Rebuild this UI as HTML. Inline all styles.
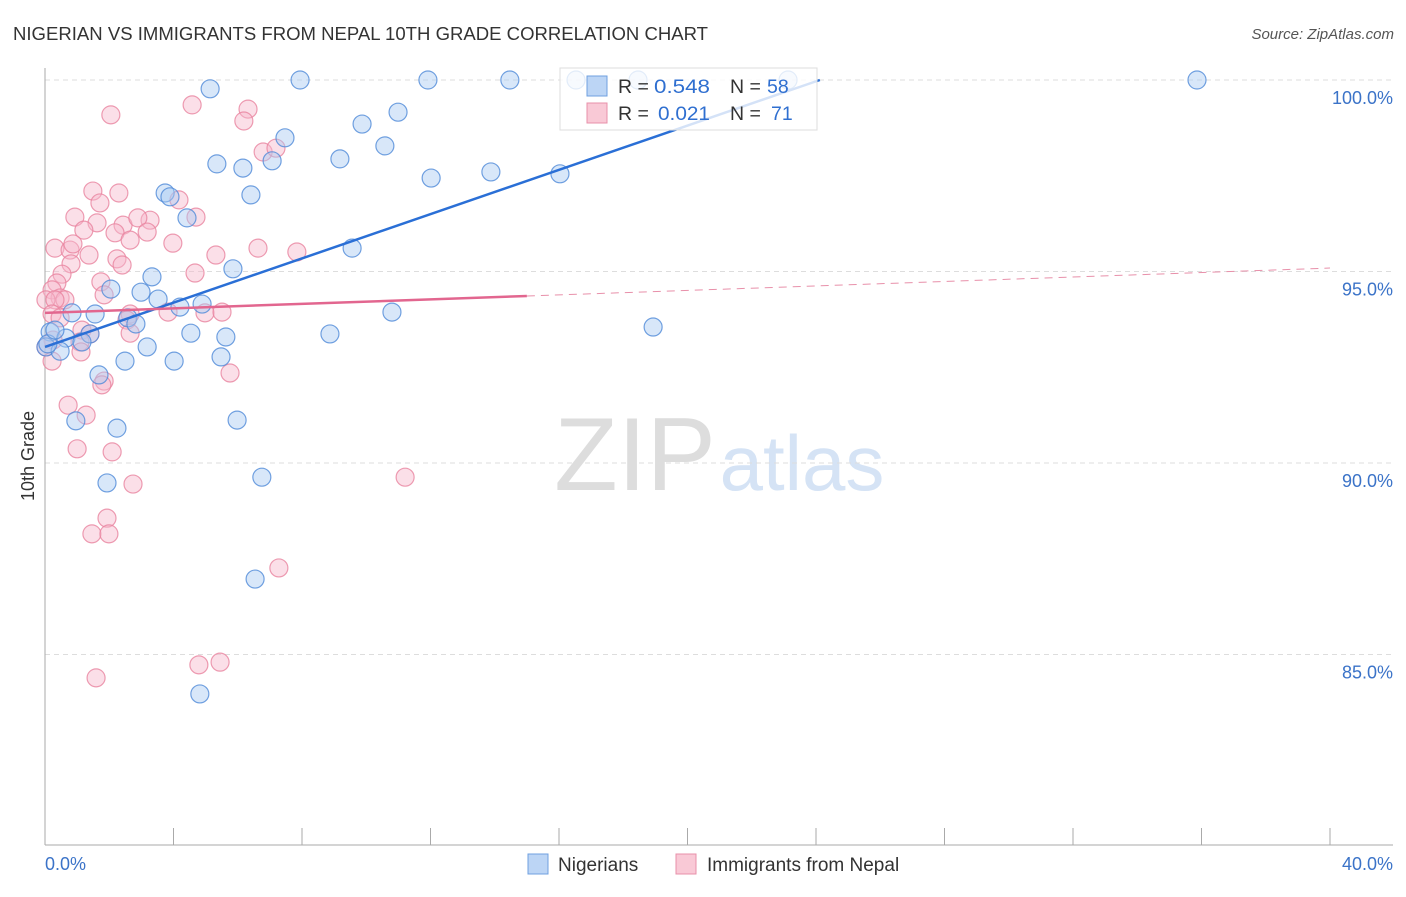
<!DOCTYPE html>
<html><head><meta charset="utf-8">
<style>
body{margin:0;background:#fff;font-family:"Liberation Sans",sans-serif;}
svg text{font-family:"Liberation Sans",sans-serif;}
</style></head>
<body>
<svg id="chart" width="1406" height="892" viewBox="0 0 1406 892" xmlns="http://www.w3.org/2000/svg">
<text x="13" y="40" font-size="18" fill="#333" textLength="695" lengthAdjust="spacingAndGlyphs">NIGERIAN VS IMMIGRANTS FROM NEPAL 10TH GRADE CORRELATION CHART</text>
<text x="1394" y="39" font-size="15" fill="#555" text-anchor="end" font-style="italic">Source: ZipAtlas.com</text>
<g>
<text x="635" y="490" font-size="104" fill="#ddd" text-anchor="middle" font-family="Liberation Serif">ZIP</text>
<text x="802" y="490" font-size="78" fill="#d5e3f5" text-anchor="middle">atlas</text>
</g>
<g id="grid"></g>
<g id="axes"></g>
<g id="marks"></g>
<g id="lines"></g>
<g>
<rect x="560" y="68" width="257" height="62" fill="#fff" fill-opacity="0.8" stroke="#ddd"/>
<rect x="587" y="76" width="20" height="20" fill="#bcd5f5" stroke="#6fa0e0"/>
<text x="618" y="93" font-size="19.5" fill="#333">R =</text>
<text x="654" y="93" font-size="19.5" fill="#2f6fd0" textLength="56" lengthAdjust="spacingAndGlyphs">0.548</text>
<text x="730" y="93" font-size="19.5" fill="#333">N =</text>
<text x="767" y="93" font-size="19.5" fill="#2f6fd0">58</text>
<rect x="587" y="103" width="20" height="20" fill="#f9c9d6" stroke="#e890aa"/>
<text x="618" y="120" font-size="19.5" fill="#333">R =</text>
<text x="658" y="120" font-size="19.5" fill="#2f6fd0" textLength="52" lengthAdjust="spacingAndGlyphs">0.021</text>
<text x="730" y="120" font-size="19.5" fill="#333">N =</text>
<text x="771" y="120" font-size="19.5" fill="#2f6fd0">71</text>
</g>
<text transform="translate(34,456) rotate(-90)" font-size="18" fill="#333" text-anchor="middle">10th Grade</text>
<g>
<rect x="528" y="854" width="20" height="20" fill="#bcd5f5" stroke="#6fa0e0"/>
<text x="558" y="871" font-size="19" fill="#333">Nigerians</text>
<rect x="676" y="854" width="20" height="20" fill="#f9c9d6" stroke="#e890aa"/>
<text x="707" y="871" font-size="19" fill="#333">Immigrants from Nepal</text>
</g>
</svg>
<script>
const xTicks=[0,4,8,12,16,20,24,28,32,36,40];
const yTicks=[100,95,90,85];
const yTickLabels=["100.0%","95.0%","90.0%","85.0%"];
const xLabels=["0.0%","40.0%"];
const blueX=[5.14,7.94,11.92,14.47,16.53,18.46,23.13,35.86,10.99,9.87,7.47,10.58,9.18,5.35,6.16,7.07,12.02,13.88,16.03,3.74,3.89,6.41,4.42,9.56,5.85,3.33,2.05,2.99,3.52,4.20,4.89,10.80,0.84,1.56,2.58,2.83,18.93,4.54,5.63,8.87,0.16,0.65,1.40,1.15,3.18,0.03,0.47,5.48,2.49,4.02,1.68,0.96,2.24,5.98,1.93,6.75,6.54,4.82,0.09,0.31];
const blueY=[99.77,100,100,100,100,100,100,100,99.16,98.85,98.49,98.28,97.94,97.81,97.70,97.89,97.44,97.60,97.55,97.05,96.95,97.00,96.40,95.61,95.07,94.86,94.54,94.46,94.28,94.07,94.15,93.94,93.92,93.89,93.79,93.63,93.55,93.39,93.29,93.37,93.42,93.26,93.37,93.16,93.03,93.03,92.92,92.77,92.66,92.66,92.30,91.10,90.91,91.12,89.48,89.63,86.97,83.97,93.11,93.47];
const pinkX=[2.05,4.58,6.32,6.19,6.79,7.19,1.49,2.30,4.17,1.71,4.70,0.93,2.43,3.27,2.89,1.62,1.21,2.18,3.18,2.65,3.98,0.31,0.78,0.87,6.63,7.84,5.32,1.37,2.24,2.40,0.81,0.53,4.67,0.37,1.74,0.22,0.47,1.84,0.03,0.62,0.31,0.22,2.65,2.55,3.83,4.98,5.51,0.47,1.15,1.40,2.65,0.25,1.09,0.03,1.12,0.22,5.76,1.84,1.77,0.72,1.28,1.00,2.09,2.74,11.21,1.93,1.46,1.99,7.28,4.79,5.45,1.59];
const pinkY=[99.09,99.35,99.24,98.93,98.12,98.22,97.10,97.05,96.87,96.79,96.42,96.42,96.21,96.34,96.40,96.27,96.08,96.01,96.03,95.82,95.74,95.61,95.56,95.72,95.61,95.51,95.43,95.43,95.33,95.17,95.20,94.93,94.96,94.70,94.73,94.52,94.31,94.39,94.26,94.26,94.26,93.89,93.89,93.73,93.94,93.92,93.94,93.79,93.47,93.37,93.39,93.21,93.16,93.03,92.90,92.66,92.35,92.14,92.04,91.51,91.25,90.37,90.29,89.45,89.63,88.56,88.15,88.15,87.26,84.73,84.80,84.39];
const blueTrend=[[0,93.03],[24.12,100]];
const pinkTrendSolid=[[0,93.92],[15,94.36]];
const pinkTrendDash=[[15,94.36],[40,95.09]];

const X=v=>45+v*(1285/40);
const Y=v=>80+(100-v)*38.3;
const NS="http://www.w3.org/2000/svg";
function mk(tag,attrs,parent){const e=document.createElementNS(NS,tag);for(const k in attrs)e.setAttribute(k,attrs[k]);parent.appendChild(e);return e;}
const grid=document.getElementById('grid'),axes=document.getElementById('axes'),marks=document.getElementById('marks'),lines=document.getElementById('lines');
yTicks.forEach((t,i)=>{
  const l=mk('line',{x1:45,x2:1393,y1:Y(t),y2:Y(t),stroke:'#ddd','stroke-dasharray':'5,4'},grid);
  
  
  const tx=mk('text',{x:1393,y:Y(t)+24,'font-size':18,fill:'#3b73c8','text-anchor':'end'},axes);
  tx.textContent=yTickLabels[i];
  
  
});
const ax=mk('line',{x1:45,x2:45,y1:68,y2:845,stroke:'#aaa'},axes);


const bx=mk('line',{x1:45,x2:1393,y1:845,y2:845,stroke:'#aaa'},axes);


xTicks.forEach(t=>{
  const l=mk('line',{x1:X(t),x2:X(t),y1:828,y2:845,stroke:'#aaa'},axes);
  
  
});
[[0,'start',45],[40,'end',1393]].forEach((d,i)=>{
  const tx=mk('text',{x:d[2],y:870,'font-size':18,fill:'#3b73c8','text-anchor':d[1]},axes);
  tx.textContent=xLabels[i];
  
  
});
function dots(xs,ys,fill,stroke,name){
  xs.forEach((v,i)=>{
    const c=mk('circle',{cx:X(v),cy:Y(ys[i]),r:9,fill:fill,'fill-opacity':0.45,stroke:stroke,'stroke-width':1.2,'stroke-opacity':0.8},marks);
    
    
  });
}
dots(pinkX,pinkY,'#f7b8cb','#e8839f','nepal-point');
dots(blueX,blueY,'#a9c9f2','#4f8ad8','nigerian-point');
function seg(p,stroke,w,dash,name){
  const l=mk('line',{x1:X(p[0][0]),y1:Y(p[0][1]),x2:X(p[1][0]),y2:Y(p[1][1]),stroke:stroke,'stroke-width':w},lines);
  if(dash)l.setAttribute('stroke-dasharray',dash);
  
  
}
seg(blueTrend,'#2a6fd6',2.5,null,'nigerian-trend-line');
seg(pinkTrendSolid,'#e2668f',2.5,null,'nepal-trend-line');
seg(pinkTrendDash,'#e890aa',1,'8,6','nepal-trend-extension');
</script>
</body></html>
